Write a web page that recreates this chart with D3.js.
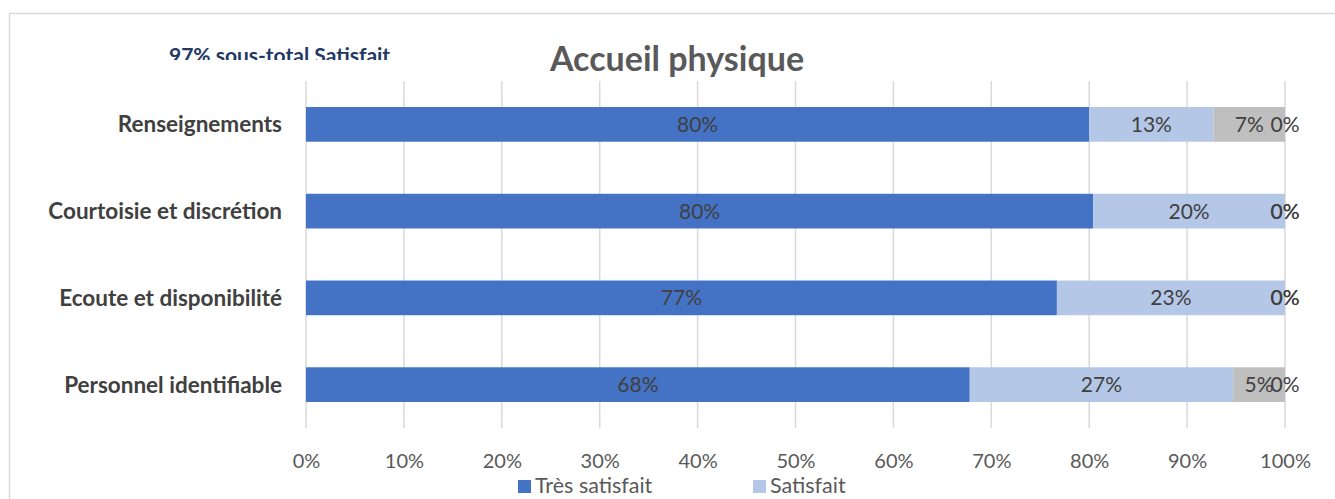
<!DOCTYPE html>
<html>
<head>
<meta charset="utf-8">
<script src="https://cdnjs.cloudflare.com/ajax/libs/d3/7.8.5/d3.min.js"></script>
<style>
  body { margin: 0; background: #fff; }
  text { font-family: Lato, "Open Sans", sans-serif; }
</style>
</head>
<body>
<div id="chart"></div>
<script>
// Data
const categories = ["Renseignements", "Courtoisie et discrétion", "Ecoute et disponibilité", "Personnel identifiable"];
const seriesNames = ["Très satisfait", "Satisfait", "Peu satisfait", "Pas satisfait"];
const tresSatisfait = [80.0, 80.4, 76.7, 67.8];
const satisfait = [12.7, 19.6, 23.3, 26.9];
const peuSatisfait = [7.3, 0, 0, 5.3];
const pasSatisfait = [0, 0, 0, 0];
const ticks = [0, 10, 20, 30, 40, 50, 60, 70, 80, 90, 100];
const colors = ["#4472c4", "#b4c7e7", "#bfbfbf", "#a5a5a5"];

const W = 1335, H = 499;
const margin = {top: 81, right: 50, bottom: 71, left: 306};

const svg = d3.select("#chart")
  .append("svg")
  .attr("width", W)
  .attr("height", H);

// chart border
svg.append("rect")
  .attr("x", 9.5).attr("y", 13.5)
  .attr("width", W + 20).attr("height", H + 20)
  .attr("fill", "none")
  .attr("stroke", "#d9d9d9")
  .attr("stroke-width", 1.5);

const x = d3.scaleLinear().domain([0, 100]).range([margin.left, 1285]);
const y = d3.scaleBand().domain(categories).range([margin.top, H - margin.bottom]).paddingInner(0.6).paddingOuter(0.3);

// gridlines
svg.append("g")
  .selectAll("line")
  .data(ticks)
  .enter().append("line")
  .attr("x1", d => x(d)).attr("x2", d => x(d))
  .attr("y1", margin.top).attr("y2", H - margin.bottom)
  .attr("stroke", "#d9d9d9")
  .attr("stroke-width", 1.5);

// tick labels
const xAxis = svg.append("g")
  .attr("transform", `translate(0,${H - margin.bottom})`)
  .call(d3.axisBottom(x).tickValues(ticks).tickFormat(d => d + "%").tickSize(0).tickPadding(26));
xAxis.select(".domain").remove();
xAxis.selectAll("text")
  .style("font-size", "20px")
  .style("font-family", "Lato, 'Open Sans', sans-serif")
  .attr("fill", "#595959");

// stack
const rows = categories.map((c, i) => ({
  cat: c,
  "Très satisfait": tresSatisfait[i],
  "Satisfait": satisfait[i],
  "Peu satisfait": peuSatisfait[i],
  "Pas satisfait": pasSatisfait[i]
}));
const stacked = d3.stack().keys(seriesNames)(rows);

const layers = svg.append("g")
  .selectAll("g")
  .data(stacked)
  .enter().append("g")
  .attr("fill", (d, i) => colors[i]);

layers.selectAll("rect")
  .data(d => d)
  .enter().append("rect")
  .attr("x", d => x(d[0]))
  .attr("y", d => y(d.data.cat))
  .attr("width", d => x(d[1]) - x(d[0]))
  .attr("height", y.bandwidth());

// data labels
const labels = svg.append("g");
stacked.forEach(layer => {
  layer.forEach(d => {
    labels.append("text")
      .attr("x", (x(d[0]) + x(d[1])) / 2)
      .attr("y", y(d.data.cat) + y.bandwidth() / 2)
      .attr("dy", "0.36em")
      .attr("text-anchor", "middle")
      .style("font-size", "21px")
      .attr("fill", "#404040")
      .text(Math.round(d[1] - d[0]) + "%");
  });
});

// category labels
svg.append("g")
  .selectAll("text")
  .data(categories)
  .enter().append("text")
  .attr("x", 282)
  .attr("y", d => y(d) + y.bandwidth() / 2)
  .attr("dy", "0.36em")
  .attr("text-anchor", "end")
  .style("font-size", "22.5px")
  .style("font-weight", "bold")
  .attr("fill", "#404040")
  .text(d => d);

// title
svg.append("text")
  .attr("x", 677)
  .attr("y", 71)
  .attr("text-anchor", "middle")
  .style("font-size", "34px")
  .style("font-weight", "bold")
  .attr("fill", "#595959")
  .text("Accueil physique");

// clipped sub-total text
svg.append("clipPath").attr("id", "subclip")
  .append("rect").attr("x", 0).attr("y", 0).attr("width", 420).attr("height", 60);
svg.append("text")
  .attr("clip-path", "url(#subclip)")
  .attr("x", 169)
  .attr("y", 63)
  .style("font-size", "21px")
  .style("font-weight", "bold")
  .attr("fill", "#1f3864")
  .text("97% sous-total Satisfait");

// legend (first row only visible)
const legend = svg.append("g");
seriesNames.slice(0, 2).forEach((name, i) => {
  const lx = 518 + i * 235;
  legend.append("rect")
    .attr("x", lx).attr("y", 480)
    .attr("width", 13).attr("height", 13)
    .attr("fill", colors[i]);
  legend.append("text")
    .attr("x", lx + 17)
    .attr("y", 486)
    .attr("dy", "0.34em")
    .style("font-size", "21.5px")
    .attr("fill", "#595959")
    .text(name);
});
</script>
</body>
</html>
